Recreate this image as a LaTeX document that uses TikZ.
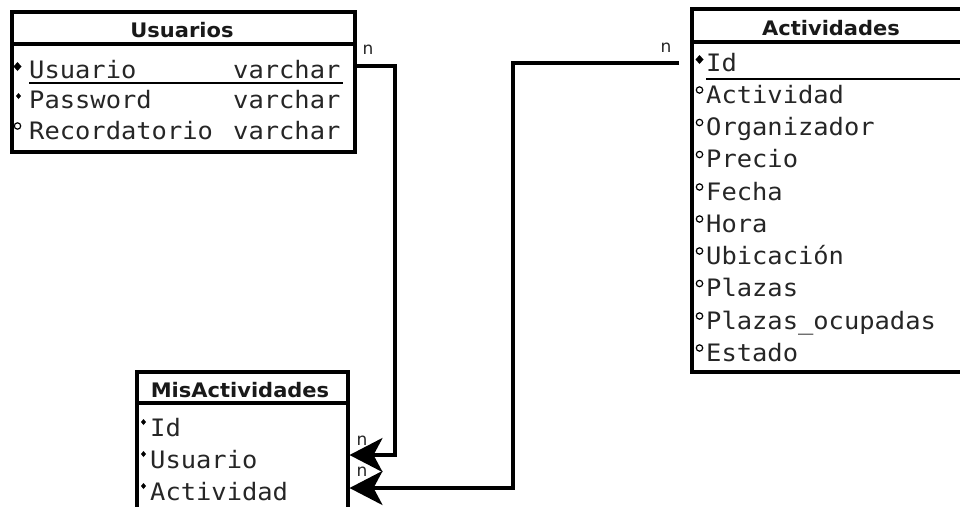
\documentclass[tikz,border=0pt]{standalone}
\usepackage{fontspec}
\newfontfamily\monof[FakeStretch=1.06]{DejaVu Sans Mono}
\newfontfamily\headf[FakeStretch=1.05]{DejaVu Sans}
\newfontfamily\cardf{DejaVu Sans}
\usetikzlibrary{arrows.meta}
\begin{document}
\begin{tikzpicture}[x=1pt,y=-1pt,
  box/.style={draw, line width=3.5pt, fill=white, inner sep=0pt, anchor=north west},
  hdr/.style={font=\headf\bfseries\fontsize{20}{20}\selectfont, inner sep=0pt, anchor=base, text=black!90},
  row/.style={font=\monof\fontsize{24}{24}\selectfont, inner sep=0pt, anchor=base west, text=black!85},
  divider/.style={line width=3.5pt},
  uline/.style={line width=1.6pt},
  conn/.style={line width=3.5pt},
  arr/.style={conn, -{Stealth[length=33pt,width=34pt,inset=9pt]}},
  card/.style={font=\cardf\fontsize{17}{17}\selectfont, inner sep=0pt, text=black!85},
  pkmark/.style={fill=black},
  circmark/.style={draw=black, line width=1.2pt, fill=white}
]
\useasboundingbox (0,0) rectangle (960,506);
\fill[white] (0,0) rectangle (960,506);

% ---------- Usuarios ----------
\node[box, minimum width=343pt, minimum height=140pt] (usu) at (10,10) {};
\coordinate (ud) at (0,44);
\draw[divider] (usu.west |- ud) -- (usu.east |- ud);
\node[hdr] (usuT) at (182,37) {Usuarios};
\node[row] (u1) at (29,78) {Usuario};
\node[row] (u1t) at (233,78) {varchar};
\node[row] (u2) at (29,108.5) {Password};
\node[row] (u2t) at (233,108.5) {varchar};
\node[row] (u3) at (29,139) {Recordatorio};
\node[row] (u3t) at (233,139) {varchar};
\coordinate (ul1) at (29,83);
\coordinate (ul2) at (343,83);
\draw[uline] (ul1) -- (ul2);
\fill[pkmark] (17.5,62) -- (21.5,66.5) -- (17.5,71) -- (13.5,66.5) -- cycle;
\fill[pkmark] (18.5,93) -- (21,96) -- (18.5,99) -- (16,96) -- cycle;
\draw[circmark] (17.5,126) circle (3.2);

% ---------- Actividades ----------
\node[box, minimum width=282pt, minimum height=363pt] (act) at (690,7) {};
\coordinate (ad) at (0,42);
\draw[divider] (act.west |- ad) -- (act.east |- ad);
\node[hdr] (actT) at (831,35) {Actividades};
\foreach \n/\t/\yb in {a1/Id/71, a2/Actividad/103, a3/Organizador/135.5, a4/Precio/167.5, a5/Fecha/200, a6/Hora/232, a7/Ubicación/264, a8/Plazas/296.5, a9/Plazas\_ocupadas/329, a10/Estado/361}
  \node[row] (\n) at (706,\yb) {\t};
\coordinate (al1) at (706,79);
\coordinate (al2) at (act.east |- al1);
\draw[uline] (al1) -- (al2);
\fill[pkmark] (699.5,55) -- (703.5,59.5) -- (699.5,64) -- (695.5,59.5) -- cycle;
\foreach \yb in {103, 135.5, 167.5, 200, 232, 264, 296.5, 329, 361}
  \draw[circmark] (699.5,\yb-13) circle (3.2);

% ---------- MisActividades ----------
\node[box, minimum width=211pt, minimum height=160pt] (mis) at (135,370) {};
\coordinate (md) at (0,403);
\draw[divider] (mis.west |- md) -- (mis.east |- md);
\node[hdr] (misT) at (240,397) {MisActividades};
\node[row] (m1) at (150,436) {Id};
\node[row] (m2) at (150,468) {Usuario};
\node[row] (m3) at (150,500) {Actividad};
\foreach \yb in {436, 468, 500}
  \fill[pkmark] (143.5,\yb-17) -- (146,\yb-14) -- (143.5,\yb-11) -- (141,\yb-14) -- cycle;

% ---------- connectors ----------
\coordinate (p1) at (395,66);
\coordinate (p2) at (395,455);
\draw[arr] (usu.east |- p1) -- (p1) -- (p2) -- (mis.east |- p2);
\coordinate (q0) at (679,63);
\coordinate (q1) at (513,63);
\coordinate (q2) at (513,488);
\draw[arr] (q0) -- (q1) -- (q2) -- (mis.east |- q2);

% ---------- cardinalities ----------
\node[card] (n1) at (368,50) {n};
\node[card] (n2) at (666,48) {n};
\node[card] (n3) at (362,441) {n};
\node[card] (n4) at (362,472) {n};
\end{tikzpicture}
\end{document}
